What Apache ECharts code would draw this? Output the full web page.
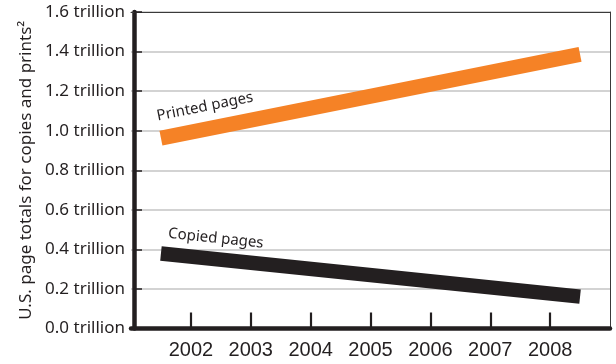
<!DOCTYPE html>
<html>
<head>
<meta charset="utf-8">
<script src="https://cdn.jsdelivr.net/npm/echarts@6/dist/echarts.min.js"></script>
<style>
  html, body { margin: 0; padding: 0; background: #fff; }
  #chart { width: 616px; height: 364px; }
</style>
</head>
<body>
<div id="chart"></div>
<script>
// Years shown on the horizontal axis
const years = [2002, 2003, 2004, 2005, 2006, 2007, 2008];
// Each trend band runs from mid-2001 to mid-2008
const trendYears = [2001.5, 2008.5];
// Page totals, trillions
const printedPages = [0.962, 1.386];
const copiedPages = [0.379, 0.161];
// Vertical tick labels, indexed by step of 0.2
const yTickLabels = ['0.0 trillion', '0.2 trillion', '0.4 trillion', '0.6 trillion',
  '0.8 trillion', '1.0 trillion', '1.2 trillion', '1.4 trillion', '1.6 trillion'];

const INK = '#231f20';
const ORANGE = '#f58226';
const FRAME = '#3a3a3a';
const LABEL_FONT = '"Noto Sans", sans-serif';

function bandData(values, name, rotate, pos) {
  return trendYears.map((yr, i) => ({
    value: [yr, values[i]],
    label: i === 0 ? {
      show: true,
      formatter: name,
      position: pos,
      align: 'left',
      verticalAlign: 'bottom',
      rotate: rotate,
      color: INK,
      fontFamily: LABEL_FONT,
      fontSize: 15
    } : { show: false }
  }));
}

const chart = echarts.init(document.getElementById('chart'), null, { renderer: 'canvas' });
chart.setOption({
  backgroundColor: '#fff',
  animation: false,
  grid: { left: 131, right: 6, top: 12, bottom: 35.5 },
  xAxis: [
    {
      type: 'value', min: 2001, max: 2009, interval: 1,
      axisLine: { show: true, onZero: false, lineStyle: { color: INK, width: 4.5 } },
      axisTick: { show: true, inside: true, length: 16, customValues: years,
        lineStyle: { color: INK, width: 2.2 } },
      axisLabel: { show: true, customValues: years, margin: 12,
        color: INK, fontFamily: '"Liberation Sans", Arial, sans-serif', fontSize: 20,
        formatter: v => String(v) },
      splitLine: { show: false }
    },
    {
      // thin frame along the top edge
      type: 'value', position: 'top', min: 2001, max: 2009,
      axisLine: { show: true, onZero: false, lineStyle: { color: FRAME, width: 1 } },
      axisTick: { show: false }, axisLabel: { show: false }, splitLine: { show: false }
    }
  ],
  yAxis: [
    {
      type: 'value', min: 0, max: 1.6, interval: 0.2, offset: -3,
      name: 'U.S. page totals for copies and prints\u00b2',
      nameLocation: 'middle', nameRotate: 90, nameGap: 96,
      nameTextStyle: { color: INK, fontFamily: LABEL_FONT, fontSize: 17 },
      axisLine: { show: true, onZero: false, lineStyle: { color: INK, width: 4.5 } },
      axisTick: { show: true, inside: true, length: 8, lineStyle: { color: INK, width: 1.5 } },
      axisLabel: { margin: 9, color: INK, fontFamily: LABEL_FONT, fontSize: 17,
        formatter: v => yTickLabels[Math.round(v / 0.2)] },
      splitLine: { show: true, lineStyle: { color: '#c4c4c4', width: 1.5 } }
    },
    {
      // thin frame along the right edge
      type: 'value', position: 'right', min: 0, max: 1.6,
      axisLine: { show: true, onZero: false, lineStyle: { color: FRAME, width: 1 } },
      axisTick: { show: false }, axisLabel: { show: false }, splitLine: { show: false }
    }
  ],
  series: [
    {
      type: 'line', name: 'Printed pages',
      data: bandData(printedPages, 'Printed pages', 11.3, [-2, -14]),
      symbol: 'circle', symbolSize: 1, showSymbol: true,
      itemStyle: { color: 'rgba(0,0,0,0)' },
      lineStyle: { color: ORANGE, width: 15, cap: 'butt' },
      z: 3
    },
    {
      type: 'line', name: 'Copied pages',
      data: bandData(copiedPages, 'Copied pages', -5.9, [7, -12]),
      symbol: 'circle', symbolSize: 1, showSymbol: true,
      itemStyle: { color: 'rgba(0,0,0,0)' },
      lineStyle: { color: INK, width: 14.5, cap: 'butt' },
      z: 3
    }
  ]
});
</script>
</body>
</html>
